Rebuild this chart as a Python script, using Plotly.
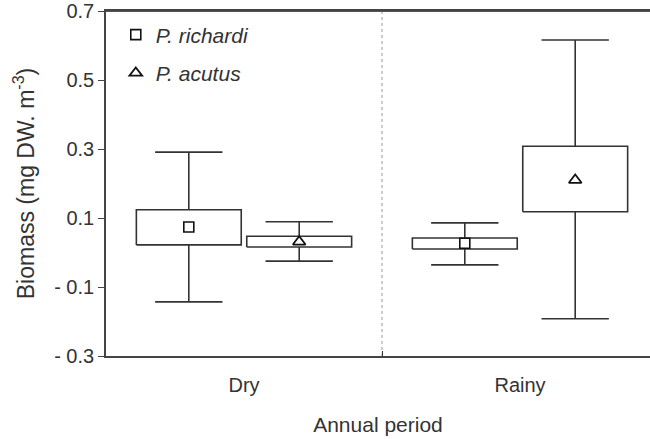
import plotly.graph_objects as go

# ---- data ----
periods = ["Dry", "Rainy"]
species = ["P. richardi", "P. acutus"]

richardi_mean = [0.074, 0.027]
richardi_box_low = [0.022, 0.010]
richardi_box_high = [0.124, 0.042]
richardi_whisk_low = [-0.143, -0.036]
richardi_whisk_high = [0.291, 0.086]

acutus_mean = [0.031, 0.210]
acutus_box_low = [0.016, 0.118]
acutus_box_high = [0.047, 0.308]
acutus_whisk_low = [-0.025, -0.192]
acutus_whisk_high = [0.089, 0.616]

y_ticks = [-0.3, -0.1, 0.1, 0.3, 0.5, 0.7]
y_ticktext = ["- 0.3", "- 0.1", "0.1", "0.3", "0.5", "0.7"]

# ---- style ----
INK = "#333333"
OFFSET = 0.2
BOX_HALF = 0.19
CAP_HALF = 0.122
FONT = "Liberation Sans, Arial, sans-serif"


def box_path(centers, lo, hi, wlo, whi):
    xs, ys = [], []
    for c, a, b, wl, wh in zip(centers, lo, hi, wlo, whi):
        xs += [c - BOX_HALF, c + BOX_HALF, c + BOX_HALF, c - BOX_HALF, c - BOX_HALF, None]
        ys += [a, a, b, b, a, None]
        xs += [c, c, None, c - CAP_HALF, c + CAP_HALF, None]
        ys += [b, wh, None, wh, wh, None]
        xs += [c, c, None, c - CAP_HALF, c + CAP_HALF, None]
        ys += [a, wl, None, wl, wl, None]
    return xs, ys


idx = list(range(len(periods)))
x_rich = [i - OFFSET for i in idx]
x_acu = [i + OFFSET for i in idx]

fig = go.Figure()

for xc, lo, hi, wl, wh in [
    (x_rich, richardi_box_low, richardi_box_high, richardi_whisk_low, richardi_whisk_high),
    (x_acu, acutus_box_low, acutus_box_high, acutus_whisk_low, acutus_whisk_high),
]:
    bx, by = box_path(xc, lo, hi, wl, wh)
    fig.add_trace(go.Scatter(x=bx, y=by, mode="lines",
                             line=dict(color=INK, width=1.6),
                             showlegend=False, hoverinfo="skip"))

fig.add_trace(go.Scatter(x=x_rich, y=richardi_mean, mode="markers", name=species[0],
                         legendgroup="a",
                         marker=dict(symbol="square-open", size=10, color="#111111",
                                     line=dict(width=1.6, color="#111111"))))
fig.add_trace(go.Scatter(x=x_acu, y=acutus_mean, mode="markers", name=species[1],
                         legendgroup="b",
                         marker=dict(symbol="triangle-up-open", size=11, color="#111111",
                                     line=dict(width=1.8, color="#111111"))))

sep = [(idx[i] + idx[i + 1]) / 2 for i in range(len(idx) - 1)]
for s in sep:
    fig.add_shape(type="line", x0=s, x1=s, y0=0, y1=1, xref="x", yref="paper",
                  line=dict(color="#999999", width=1, dash="dot"), layer="below")

# top frame of the plotting area (at the top of the y range)
fig.add_shape(type="line", x0=0, x1=1, xref="paper",
              y0=y_ticks[-1], y1=y_ticks[-1], yref="y",
              line=dict(color="#555555", width=2), layer="above")

fig.update_layout(
    template="none",
    width=650, height=439,
    margin=dict(l=106, r=0, t=11, b=83),
    paper_bgcolor="white", plot_bgcolor="white",
    font=dict(family=FONT, size=20, color=INK),
    showlegend=True,
    legend=dict(x=0.018, y=0.99, xanchor="left", yanchor="top",
                bgcolor="rgba(0,0,0,0)", font=dict(size=21, style="italic", color=INK),
                tracegroupgap=8, traceorder="grouped", itemwidth=30),
    xaxis=dict(range=[-0.5, -0.5 + 544 / 276], tickvals=idx, ticktext=periods,
               ticks="outside", ticklen=10, tickcolor="rgba(0,0,0,0)",
               showgrid=False, zeroline=False, automargin=False,
               showline=True, linecolor="#444444", linewidth=1.6, mirror=True,
               minor=dict(tickvals=sep, ticks="inside", ticklen=5, tickcolor="#333333",
                          showgrid=False),
               tickfont=dict(size=20),
               title=dict(text="Annual period", font=dict(size=21), standoff=23)),
    yaxis=dict(range=[-0.3, 0.7], tickvals=y_ticks, ticktext=y_ticktext,
               ticks="outside", ticklen=6, tickcolor="#444444", tickwidth=1.3,
               showgrid=False, zeroline=False, automargin=False,
               showline=True, linecolor="#444444", linewidth=1.6,
               tickfont=dict(size=20), ticklabeloverflow="allow",
               title=dict(text="Biomass (mg DW. m<sup>-3</sup>)", font=dict(size=23), standoff=13)),
)

# remove the default 8px page margin so the figure fills the 650x439 window
fig.write_html("out.html", config={"displayModeBar": False},
               post_script="document.body.style.margin='0';document.body.style.overflow='hidden';")
